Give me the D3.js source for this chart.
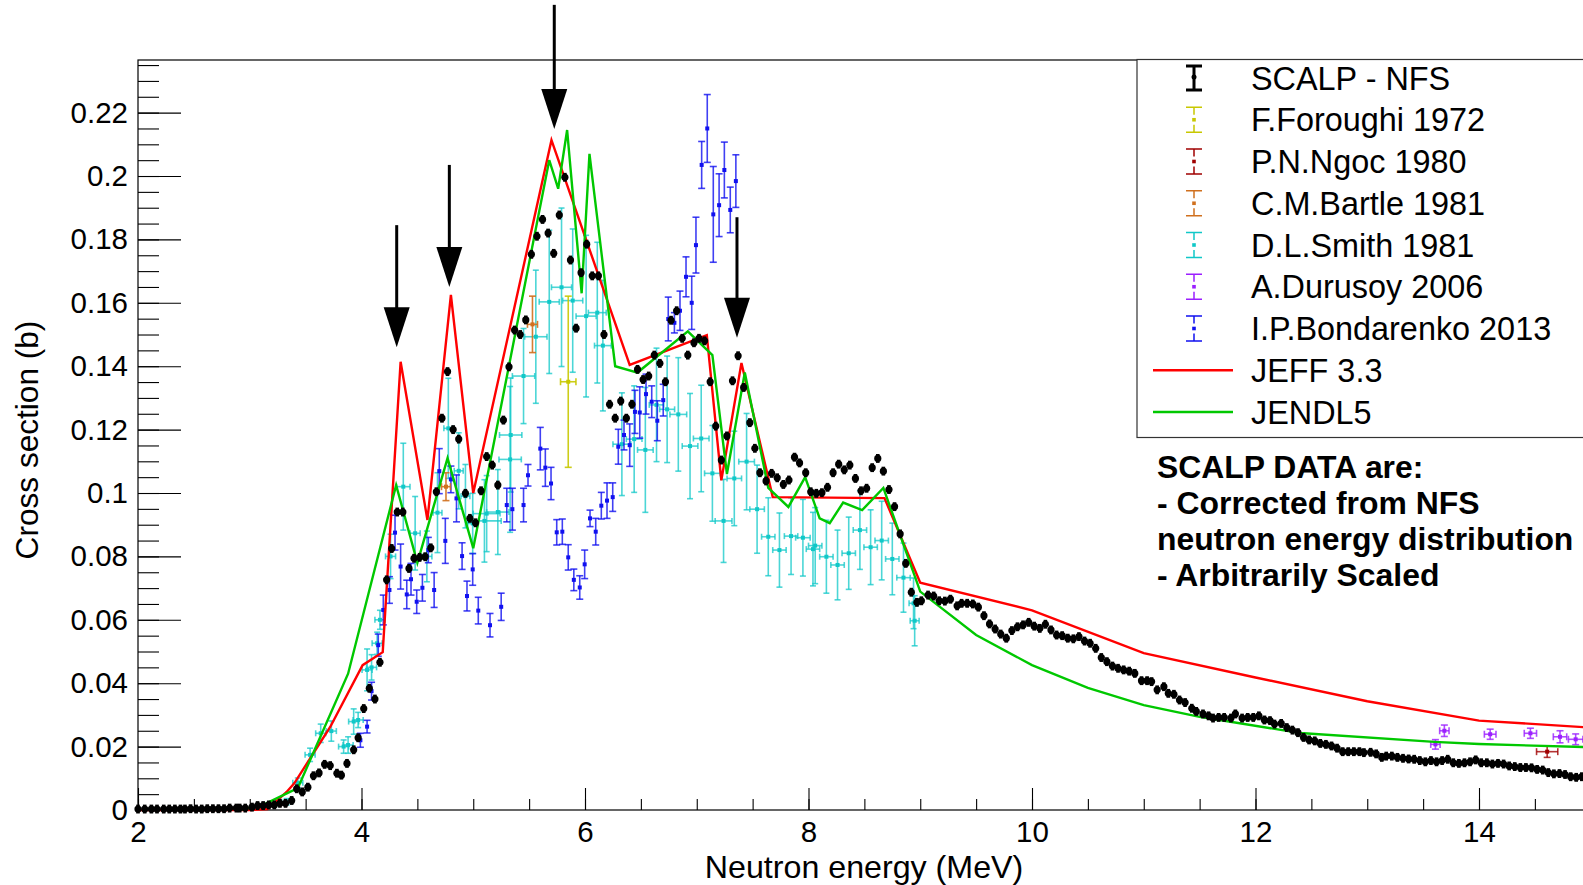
<!DOCTYPE html>
<html>
<head>
<meta charset="utf-8">
<script src="https://cdn.jsdelivr.net/npm/d3@7"></script>
<style>
  body { margin: 0; background: #fff; }
  text { font-family: "Liberation Sans", Arial, Helvetica, sans-serif; }
</style>
</head>
<body>
<svg id="chart" width="1583" height="885"></svg>
<script>
// ---- data ----
// SCALP - NFS (black points)
var scalpE = [
  2.00,2.06,2.12,2.17,2.23,2.28,2.33,2.38,2.42,2.47,
  2.52,2.57,2.62,2.67,2.72,2.77,2.82,2.88,2.91,2.96,
  3.02,3.07,3.12,3.17,3.22,3.27,3.32,3.375,3.42,3.47,
  3.52,3.57,3.62,3.67,3.72,3.78,3.82,3.87,3.93,3.97,
  4.02,4.07,4.12,4.165,4.225,4.27,4.32,4.37,4.425,4.47,
  4.52,4.57,4.62,4.67,4.72,4.77,4.82,4.87,4.93,4.97,
  5.02,5.07,5.12,5.17,5.22,5.27,5.32,5.37,5.42,5.47,
  5.52,5.57,5.62,5.67,5.72,5.77,5.82,5.87,5.92,5.965,
  6.015,6.065,6.12,6.17,6.22,6.27,6.32,6.37,6.42,6.47,
  6.52,6.57,6.62,6.67,6.72,6.77,6.82,6.87,6.92,6.975,
  7.02,7.07,7.12,7.17,7.22,7.27,7.32,7.37,7.42,7.475,
  7.52,7.565,7.62,7.67,7.72,7.775,7.825,7.875,7.92,7.975,
  8.02,8.07,8.12,8.17,8.22,8.27,8.32,8.37,8.42,8.47,
  8.52,8.57,8.62,8.67,8.72,8.77,8.82,8.87,8.92,8.97,
  9.01,9.07,9.12,9.17,9.22,9.27,9.33,9.37,9.42,9.47,
  9.52,9.57,9.62,9.67,9.72,9.77,9.82,9.87,9.92,9.97,
  10.02,10.07,10.12,10.17,10.22,10.27,10.32,10.37,10.42,10.47,
  10.52,10.57,10.62,10.67,10.72,10.77,10.82,10.87,10.92,10.98,
  11.03,11.07,11.12,11.18,11.22,11.27,11.32,11.37,11.43,11.47,
  11.53,11.58,11.62,11.67,11.72,11.78,11.82,11.88,11.93,11.98,
  12.03,12.08,12.13,12.17,12.23,12.28,12.33,12.38,12.43,12.48,
  12.53,12.58,12.63,12.68,12.73,12.78,12.83,12.88,12.93,12.97,
  13.03,13.08,13.13,13.17,13.22,13.27,13.32,13.37,13.42,13.47,
  13.52,13.57,13.62,13.67,13.72,13.77,13.82,13.87,13.92,13.97,
  14.02,14.07,14.12,14.17,14.22,14.27,14.32,14.37,14.42,14.47,
  14.52,14.57,14.62,14.67,14.72,14.77,14.82,14.87,14.92
]
var scalpY = [
  0.0003,0.0003,0.0003,0.0003,0.0003,0.0003,0.0003,0.0003,0.0003,0.0004,
  0.0003,0.0003,0.0004,0.0004,0.0004,0.0004,0.0006,0.0006,0.0006,0.0006,
  0.0009,0.0014,0.0014,0.0016,0.0016,0.0021,0.0021,0.003,0.0067,0.0057,
  0.0072,0.0108,0.0117,0.0144,0.014,0.0116,0.011,0.0147,0.019,0.0228,
  0.032,0.0384,0.035,0.0466,0.0726,0.0825,0.094,0.094,0.0762,0.0794,
  0.0797,0.0799,0.0827,0.1004,0.1236,0.1383,0.120,0.117,0.0999,0.092,
  0.0906,0.1007,0.1115,0.1088,0.1025,0.123,0.1398,0.1514,0.150,0.1546,
  0.1753,0.181,0.1863,0.182,0.1756,0.1877,0.1996,0.1735,0.152,0.1695,
  0.1785,0.1685,0.1685,0.150,0.128,0.1236,0.129,0.1236,0.128,0.139,
  0.1358,0.1369,0.1435,0.1409,0.1351,0.1545,0.1575,0.1488,0.1435,0.1474,
  0.1488,0.148,0.1351,0.1211,0.1104,0.118,0.1354,0.1433,0.1333,0.1222,
  0.1141,0.1064,0.1038,0.1062,0.1048,0.1027,0.1041,0.1113,0.1095,0.1064,
  0.1004,0.0999,0.1001,0.1018,0.1064,0.1091,0.1073,0.1088,0.1046,0.1007,
  0.1015,0.108,0.1109,0.1069,0.1011,0.0957,0.0871,0.0778,0.0687,0.0655,
  0.066,0.0678,0.0675,0.066,0.0659,0.0665,0.0644,0.0652,0.0652,0.065,
  0.064,0.0613,0.0587,0.0571,0.0555,0.0542,0.0566,0.0578,0.0584,0.0592,
  0.058,0.0573,0.0586,0.0568,0.0552,0.055,0.0542,0.054,0.0547,0.0533,
  0.0526,0.051,0.0481,0.0468,0.0454,0.0447,0.0442,0.0438,0.0431,0.0408,
  0.0408,0.0405,0.0379,0.0389,0.0368,0.0365,0.0347,0.0339,0.0321,0.0311,
  0.0303,0.0297,0.029,0.0292,0.0292,0.029,0.0303,0.029,0.0292,0.0292,
  0.0297,0.0284,0.0282,0.0271,0.0273,0.026,0.0252,0.0244,0.0229,0.0221,
  0.0218,0.021,0.0207,0.0202,0.0195,0.0184,0.0184,0.0184,0.0184,0.0181,
  0.0182,0.0177,0.0166,0.017,0.017,0.0166,0.0163,0.0161,0.016,0.0156,
  0.0152,0.0156,0.0152,0.0156,0.016,0.0149,0.0147,0.0149,0.0152,0.0158,
  0.0149,0.0149,0.0145,0.0147,0.0145,0.0139,0.0137,0.0134,0.0134,0.0133,
  0.0128,0.0126,0.0118,0.0114,0.0115,0.0112,0.0105,0.0103,0.0105
]
var scalpErr = 0.0014

// D.L.Smith 1981
var smithE = [3.33,3.43,3.54,3.635,3.73,3.84,3.88,3.93,3.97,4.05,
  4.09,4.14,4.165,4.26,4.374,4.48,4.585,4.68,4.777,4.87,
  4.93,4.995,5.10,5.12,5.22,5.33,5.335,5.45,5.56,5.68,
  5.79,5.89,6.01,6.11,6.16,6.33,6.44,6.54,6.64,6.735,
  6.835,6.94,7.04,7.14,7.24,7.336,7.446,7.54,7.64,7.74,
  7.844,7.95,8.04,8.06,8.16,8.26,8.36,8.46,8.556,8.655,
  8.75,8.85,8.94,8.95]
var smithY = [0.0026,0.0086,0.0174,0.0242,0.0249,0.020,0.0205,0.0279,0.0284,0.0442,
  0.045,0.0526,0.060,0.080,0.102,0.0873,0.080,0.0938,0.1204,0.107,
  0.099,0.0904,0.0912,0.0935,0.094,0.1106,0.1183,0.1369,0.1493,0.1603,
  0.1649,0.1607,0.1558,0.1569,0.1465,0.1154,0.117,0.1136,0.1278,0.1264,
  0.1248,0.1148,0.1172,0.1062,0.0912,0.1046,0.1099,0.0949,0.0862,0.082,
  0.0864,0.0859,0.0823,0.0834,0.0799,0.0773,0.081,0.0883,0.0829,0.085,
  0.0792,0.0733,0.0652,0.0597]
var smithEx = [0.045,0.045,0.045,0.045,0.045,0.045,0.045,0.045,0.045,0.045,
  0.045,0.045,0.045,0.045,0.06,0.045,0.045,0.04,0.04,0.04,
  0.04,0.045,0.15,0.12,0.1,0.1,0.1,0.1,0.1,0.09,
  0.09,0.09,0.09,0.08,0.075,0.08,0.07,0.07,0.065,0.067,
  0.075,0.07,0.07,0.07,0.075,0.065,0.07,0.065,0.06,0.06,
  0.06,0.065,0.06,0.06,0.06,0.06,0.06,0.06,0.06,0.06,
  0.06,0.06,0.04,0.04]
var smithEy = [0.001,0.0015,0.0021,0.0029,0.0032,0.0021,0.0026,0.004,0.0024,0.0066,
  0.004,0.0035,0.003,0.007,0.0137,0.0116,0.008,0.0126,0.0158,0.012,
  0.01,0.0095,0.013,0.012,0.0134,0.023,0.018,0.015,0.021,0.0226,
  0.025,0.0226,0.0255,0.0222,0.0206,0.0162,0.0168,0.0197,0.0179,0.0168,
  0.0179,0.0166,0.0168,0.0151,0.0131,0.0149,0.0152,0.0139,0.0123,0.0117,
  0.0121,0.0121,0.0116,0.012,0.0115,0.011,0.0114,0.0124,0.0118,0.0124,
  0.0113,0.0109,0.008,0.0079]

// I.P.Bondarenko 2013
var bondE = [3.99,4.05,4.09,4.15,4.195,4.25,4.30,4.35,4.405,4.443,
  4.494,4.545,4.598,4.65,4.696,4.75,4.80,4.85,4.90,4.944,
  4.995,5.045,5.15,5.25,5.30,5.35,5.45,5.49,5.60,5.645,
  5.696,5.747,5.797,5.85,5.90,5.953,5.997,6.045,6.096,6.146,
  6.197,6.248,6.298,6.349,6.40,6.447,6.49,6.546,6.597,6.647,
  6.70,6.745,6.80,6.85,6.904,6.955,6.993,7.044,7.094,7.148,
  7.20,7.247,7.30,7.35]
var bondY = [0.022,0.0263,0.0375,0.052,0.0631,0.0694,0.0875,0.0768,0.068,0.0728,
  0.0657,0.0701,0.082,0.0694,0.1069,0.0849,0.1043,0.0983,0.0801,0.0675,
  0.0759,0.0629,0.0583,0.0641,0.0962,0.0949,0.0962,0.1056,0.114,0.108,
  0.103,0.0876,0.0878,0.0797,0.0726,0.0702,0.0775,0.092,0.0878,0.096,
  0.0976,0.0987,0.1146,0.1183,0.1151,0.1256,0.1254,0.1312,0.1288,0.1228,
  0.1293,0.1549,0.1537,0.1575,0.1682,0.16,0.1782,0.2035,0.215,0.1879,
  0.1908,0.2019,0.1893,0.1984]
var bondEy = [0.0022,0.002,0.0028,0.0035,0.0047,0.0042,0.0055,0.0071,0.0045,0.005,
  0.0037,0.0042,0.004,0.0055,0.0071,0.0071,0.0042,0.0074,0.0042,0.0047,
  0.005,0.0042,0.0037,0.0043,0.0053,0.0066,0.0053,0.0034,0.0067,0.0059,
  0.0051,0.004,0.004,0.004,0.0034,0.0037,0.0045,0.0026,0.0042,0.0042,
  0.0056,0.0045,0.0055,0.0047,0.0067,0.0068,0.0081,0.0063,0.005,0.0063,
  0.005,0.0069,0.0032,0.0062,0.0063,0.0084,0.0088,0.0074,0.0107,0.0151,
  0.0099,0.0088,0.0072,0.0083]

// single-point / few-point experiments
var forE = [5.85], forY = [0.1351], forEx = [0.069], forEy = [0.027]
var ngocE = [14.61], ngocY = [0.0184], ngocEx = [0.095], ngocEy = [0.0018]
var bartE = [4.756, 5.53], bartY = [0.102, 0.1532], bartEx = [0.04, 0.045], bartEy = [0.0044, 0.0089]
var durE = [13.61, 13.69, 14.10, 14.46, 14.725, 14.865]
var durY = [0.0207, 0.025, 0.0239, 0.0242, 0.0231, 0.0223]
var durEx = [0.042, 0.042, 0.052, 0.055, 0.06, 0.065]
var durEy = [0.0015, 0.0018, 0.0016, 0.0016, 0.0019, 0.0017]

// evaluations
var jeffE = [2.0,3.0,3.16,3.33,3.40,3.72,4.01,4.19,4.35,4.59,4.80,5.00,5.70,6.40,7.09,7.22,7.40,7.68,8.68,9.0,10.0,11.0,12.0,13.0,14.0,15.0]
var jeffY = [0,0,0.0003,0.0057,0.0085,0.0262,0.0457,0.0498,0.1414,0.0915,0.1625,0.100,0.2113,0.1404,0.1498,0.104,0.141,0.0987,0.0984,0.0717,0.063,0.0495,0.0418,0.0343,0.0282,0.026]
var jendlE = [2.9,3.12,3.43,3.88,4.31,4.50,4.77,5.0,5.68,5.76,5.84,5.97,6.04,6.27,6.47,6.92,7.14,7.27,7.43,7.64,7.82,7.97,8.10,8.19,8.31,8.48,8.67,9.0,9.5,10.0,10.5,11.0,11.5,12.4,13.6,14.0,15.0]
var jendlY = [0,0.0016,0.0069,0.043,0.1025,0.078,0.111,0.0826,0.205,0.196,0.2145,0.163,0.207,0.140,0.138,0.151,0.1435,0.106,0.138,0.1016,0.0956,0.105,0.092,0.0905,0.097,0.0946,0.1016,0.0689,0.0552,0.0457,0.0385,0.0331,0.0294,0.0243,0.0215,0.0208,0.0198]

// arrows marking the resonances
var arrowE = [4.315, 4.786, 5.725, 7.36]
var arrowTop = [0.1845, 0.2035, 0.254, 0.187]
var arrowTip = [0.146, 0.165, 0.2148, 0.149]

// axis ticks
var xTicks = [2, 4, 6, 8, 10, 12, 14]
var yTicks = [0, 0.02, 0.04, 0.06, 0.08, 0.1, 0.12, 0.14, 0.16, 0.18, 0.2, 0.22]

var legendLabels = ["SCALP - NFS", "F.Foroughi 1972", "P.N.Ngoc 1980", "C.M.Bartle 1981",
  "D.L.Smith 1981", "A.Durusoy 2006", "I.P.Bondarenko 2013", "JEFF 3.3", "JENDL5"]
var legendColors = ["#000000", "#c8c800", "#a00000", "#d0701e", "#10c8c8", "#9b1fff", "#1010f0", "#ff0000", "#00c800"]
var noteLines = ["SCALP DATA are:", "- Corrected from NFS", "neutron energy distribution", "- Arbitrarily Scaled"]

// ---- drawing ----
var svg = d3.select("#chart")
var x = d3.scaleLinear().domain([2, 15]).range([138, 1590.75])
var y = d3.scaleLinear().domain([0, 0.2366]).range([810, 60])

// frame
svg.append("rect")
  .attr("x", x(2)).attr("y", y(0.2366))
  .attr("width", x(15) - x(2)).attr("height", y(0) - y(0.2366))
  .attr("fill", "none").attr("stroke", "#000").attr("stroke-width", 1.2)

// axes with inward ticks, ROOT style
function styleAxis(g) {
  g.select(".domain").remove()
  g.selectAll(".tick line").attr("stroke", "#000").attr("stroke-width", 1.1)
  g.selectAll("text").attr("font-size", 29.5).attr("fill", "#000")
    .style("font-family", '"Liberation Sans", Arial, sans-serif')
}
svg.append("g").attr("transform", "translate(" + x(2) + ",0)")
  .call(d3.axisLeft(y).tickValues(d3.range(0, 0.2366, 0.005)).tickSizeInner(-21).tickSizeOuter(0).tickFormat(""))
  .call(styleAxis)
svg.append("g").attr("transform", "translate(" + x(2) + ",0)")
  .call(d3.axisLeft(y).tickValues(yTicks).tickSizeInner(-43).tickSizeOuter(0).tickPadding(10).tickFormat(d3.format("~g")))
  .call(styleAxis)
svg.append("g").attr("transform", "translate(0," + y(0) + ")")
  .call(d3.axisBottom(x).tickValues(d3.range(2, 15.01, 0.5)).tickSizeInner(-11).tickSizeOuter(0).tickFormat(""))
  .call(styleAxis)
svg.append("g").attr("transform", "translate(0," + y(0) + ")")
  .call(d3.axisBottom(x).tickValues(xTicks).tickSizeInner(-22).tickSizeOuter(0).tickPadding(11))
  .call(styleAxis)

// axis titles
svg.append("text")
  .attr("x", 864).attr("y", 878)
  .attr("text-anchor", "middle").attr("font-size", 32.2)
  .text("Neutron energy (MeV)")
svg.append("text")
  .attr("transform", "translate(38,440) rotate(-90)")
  .attr("text-anchor", "middle").attr("font-size", 31.6)
  .text("Cross section (b)")

// error bar series: x/y errors with small caps and square marker
function errSeries(E, Y, ex, ey, color, cap, op) {
  var rows = E.map(function(e, i) { return {e: e, v: Y[i], ex: ex ? ex[i] : 0, ey: ey[i]} })
  var g = svg.append("g").attr("stroke", color).attr("fill", color).attr("stroke-width", 1.6)
  var bars = g.append("g").attr("stroke-opacity", op)
  bars.selectAll(".ev").data(rows).join("line")
    .attr("x1", function(d) { return x(d.e) }).attr("x2", function(d) { return x(d.e) })
    .attr("y1", function(d) { return y(d.v - d.ey) }).attr("y2", function(d) { return y(d.v + d.ey) })
  bars.selectAll(".ct").data(rows).join("line")
    .attr("x1", function(d) { return x(d.e) - cap }).attr("x2", function(d) { return x(d.e) + cap })
    .attr("y1", function(d) { return y(d.v + d.ey) }).attr("y2", function(d) { return y(d.v + d.ey) })
  bars.selectAll(".cb").data(rows).join("line")
    .attr("x1", function(d) { return x(d.e) - cap }).attr("x2", function(d) { return x(d.e) + cap })
    .attr("y1", function(d) { return y(d.v - d.ey) }).attr("y2", function(d) { return y(d.v - d.ey) })
  if (ex) {
    var xr = rows.filter(function(d) { return d.ex > 0 })
    bars.selectAll(".eh").data(xr).join("line")
      .attr("x1", function(d) { return x(d.e - d.ex) }).attr("x2", function(d) { return x(d.e + d.ex) })
      .attr("y1", function(d) { return y(d.v) }).attr("y2", function(d) { return y(d.v) })
    bars.selectAll(".cl").data(xr).join("line")
      .attr("x1", function(d) { return x(d.e - d.ex) }).attr("x2", function(d) { return x(d.e - d.ex) })
      .attr("y1", function(d) { return y(d.v) - cap }).attr("y2", function(d) { return y(d.v) + cap })
    bars.selectAll(".cr").data(xr).join("line")
      .attr("x1", function(d) { return x(d.e + d.ex) }).attr("x2", function(d) { return x(d.e + d.ex) })
      .attr("y1", function(d) { return y(d.v) - cap }).attr("y2", function(d) { return y(d.v) + cap })
  }
  g.selectAll("rect").data(rows).join("rect")
    .attr("x", function(d) { return x(d.e) - 2 }).attr("y", function(d) { return y(d.v) - 2 })
    .attr("width", 4).attr("height", 4).attr("stroke", "none")
}

errSeries(smithE, smithY, smithEx, smithEy, legendColors[4], 3, 0.75)
errSeries(bondE, bondY, null, bondEy, legendColors[6], 3.5, 0.8)
errSeries(forE, forY, forEx, forEy, legendColors[1], 3.5, 0.9)
errSeries(bartE, bartY, bartEx, bartEy, legendColors[3], 3.5, 0.9)
errSeries(ngocE, ngocY, ngocEx, ngocEy, legendColors[2], 3.5, 0.8)
errSeries(durE, durY, durEx, durEy, legendColors[5], 3.5, 0.8)

// evaluated curves
var line = d3.line().x(function(d) { return x(d[0]) }).y(function(d) { return y(d[1]) })
svg.append("path").datum(d3.zip(jeffE, jeffY))
  .attr("d", line).attr("fill", "none").attr("stroke", legendColors[7]).attr("stroke-width", 2.4)
svg.append("path").datum(d3.zip(jendlE, jendlY))
  .attr("d", line).attr("fill", "none").attr("stroke", legendColors[8]).attr("stroke-width", 2.4)

// SCALP points on top
var sc = svg.append("g")
var scRows = d3.zip(scalpE, scalpY)
sc.selectAll("line").data(scRows).join("line")
  .attr("x1", function(d) { return x(d[0]) }).attr("x2", function(d) { return x(d[0]) })
  .attr("y1", function(d) { return y(d[1] - scalpErr) }).attr("y2", function(d) { return y(d[1] + scalpErr) })
  .attr("stroke", "#000").attr("stroke-width", 3.6)
sc.selectAll("circle").data(scRows).join("circle")
  .attr("cx", function(d) { return x(d[0]) }).attr("cy", function(d) { return y(d[1]) })
  .attr("r", 3.6).attr("fill", "#000")

// arrows
var ag = svg.append("g")
arrowE.forEach(function(e, i) {
  var ax = x(e), tip = y(arrowTip[i])
  ag.append("line").attr("x1", ax).attr("x2", ax)
    .attr("y1", y(arrowTop[i])).attr("y2", tip - 38)
    .attr("stroke", "#000").attr("stroke-width", 3)
  ag.append("path")
    .attr("d", "M" + (ax - 13) + "," + (tip - 40) + "L" + (ax + 13) + "," + (tip - 40) + "L" + ax + "," + tip + "Z")
    .attr("fill", "#000")
})

// legend
var lg = svg.append("g")
lg.append("rect").attr("x", 1137).attr("y", 59.5).attr("width", 480).attr("height", 378)
  .attr("fill", "#fff").attr("stroke", "#333").attr("stroke-width", 1.2)
legendLabels.forEach(function(lab, i) {
  var ly = 78 + i * 41.75, c = legendColors[i], mx = 1194
  if (i === 0) {
    lg.append("path").attr("d", "M" + (mx - 8) + "," + (ly - 12) + "H" + (mx + 8) + "M" + mx + "," + (ly - 12) +
      "V" + (ly + 12) + "M" + (mx - 8) + "," + (ly + 12) + "H" + (mx + 8))
      .attr("stroke", c).attr("stroke-width", 3).attr("fill", "none")
    lg.append("circle").attr("cx", mx).attr("cy", ly - 1).attr("r", 2.5).attr("fill", c)
  } else if (i < 7) {
    lg.append("path").attr("d", "M" + (mx - 8) + "," + (ly - 12.5) + "H" + (mx + 8) + "M" + mx + "," + (ly - 12.5) +
      "V" + (ly - 5) + "M" + mx + "," + (ly + 5) + "V" + (ly + 12.5) + "M" + (mx - 8) + "," + (ly + 12.5) + "H" + (mx + 8))
      .attr("stroke", c).attr("stroke-width", 1.5).attr("fill", "none")
    lg.append("rect").attr("x", mx - 1.8).attr("y", ly - 1.8).attr("width", 3.6).attr("height", 3.6).attr("fill", c)
  } else {
    lg.append("line").attr("x1", 1153).attr("x2", 1233).attr("y1", ly).attr("y2", ly)
      .attr("stroke", c).attr("stroke-width", 2.4)
  }
  lg.append("text").attr("x", 1251).attr("y", ly).attr("dy", "0.36em")
    .attr("font-size", 32.4).attr("fill", "#000").text(lab)
})

// note
svg.append("g").selectAll("text").data(noteLines).join("text")
  .attr("x", 1157).attr("y", function(d, i) { return 478 + i * 36 })
  .attr("font-size", 31.9).attr("font-weight", "bold").attr("fill", "#000")
  .text(function(d) { return d })
</script>
</body>
</html>
